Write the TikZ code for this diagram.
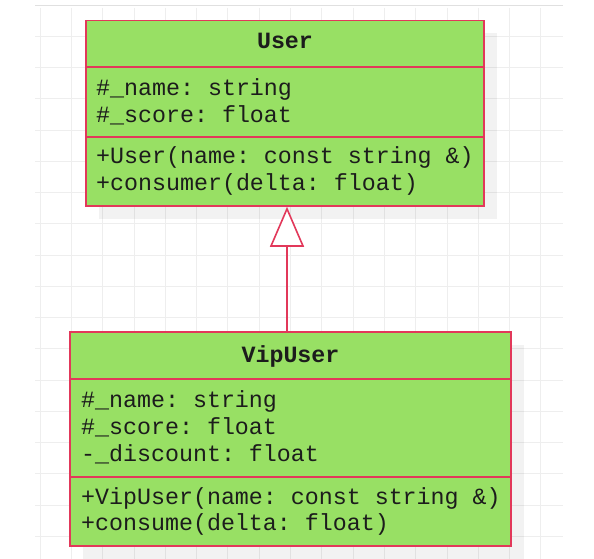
\documentclass[tikz,border=0pt]{standalone}
\usepackage{fontspec}
\setmonofont{Liberation Mono}
\usetikzlibrary{arrows.meta}
\definecolor{umlfill}{RGB}{152,224,100}
\definecolor{umlline}{RGB}{226,56,90}
\definecolor{gridc}{RGB}{238,238,238}
\definecolor{txt}{RGB}{28,28,28}
\begin{document}
\begin{tikzpicture}[x=1pt,y=-1pt,
  cls/.style={draw=umlline, line width=1.6pt, fill=umlfill, inner sep=0pt},
  divider/.style={draw=umlline, line width=1.6pt},
  shadowbox/.style={fill=black, fill opacity=0.05},
  row/.style={anchor=base west, inner sep=0pt, font=\ttfamily\fontsize{23.3}{27}\selectfont, text=txt},
  ttl/.style={anchor=base, inner sep=0pt, font=\ttfamily\bfseries\fontsize{23.3}{27}\selectfont, text=txt},
  gridline/.style={draw=gridc, line width=0.8pt},
  inherit/.style={draw=umlline, line width=1.6pt, -{Triangle[length=40pt, width=34pt, fill=white, line width=1.6pt]}}]
\fill[white] (0,0) rectangle (594,559);
\useasboundingbox (0,0) rectangle (594,559);
% grid
\foreach \i in {0,...,16} \draw[gridline] ({40+31.3*\i},8) -- ({40+31.3*\i},559);
\foreach \j in {1,...,17} \draw[gridline] (35,{5+31.25*\j}) -- (563,{5+31.25*\j});
\draw[gridline, draw=black!12] (35,5) -- (563,5);
% shadows
\fill[shadowbox] (99,33) rectangle (497,219);
\fill[shadowbox] (83,345) rectangle (524,559);
% User class
\node[cls, minimum width=398pt, minimum height=185.5pt] (user) at (285,113.25) {};
\draw[divider] (user.west |- 0,67) -- (user.east |- 0,67);
\draw[divider] (user.west |- 0,137) -- (user.east |- 0,137);
\node[ttl] (usertitle) at (285,49) {User};
\node[row] (u1) at (96,95.7) {\#\_name: string};
\node[row] (u2) at (96,122.5) {\#\_score: float};
\node[row] (u3) at (96,163) {+User(name: const string \&)};
\node[row] (u4) at (96,190) {+consumer(delta: float)};
% VipUser class
\node[cls, minimum width=441pt, minimum height=214pt] (vip) at (290.5,439) {};
\draw[divider] (vip.west |- 0,379) -- (vip.east |- 0,379);
\draw[divider] (vip.west |- 0,477) -- (vip.east |- 0,477);
\node[ttl] (viptitle) at (290.5,362.7) {VipUser};
\node[row] (v1) at (81,407.7) {\#\_name: string};
\node[row] (v2) at (81,434.3) {\#\_score: float};
\node[row] (v3) at (81,461.5) {-\_discount: float};
\node[row] (v4) at (81,504) {+VipUser(name: const string \&)};
\node[row] (v5) at (81,530.7) {+consume(delta: float)};
% inheritance
\coordinate (ax) at (287,0);
\draw[inherit] (vip.north -| ax) -- (user.south -| ax);
\end{tikzpicture}
\end{document}
